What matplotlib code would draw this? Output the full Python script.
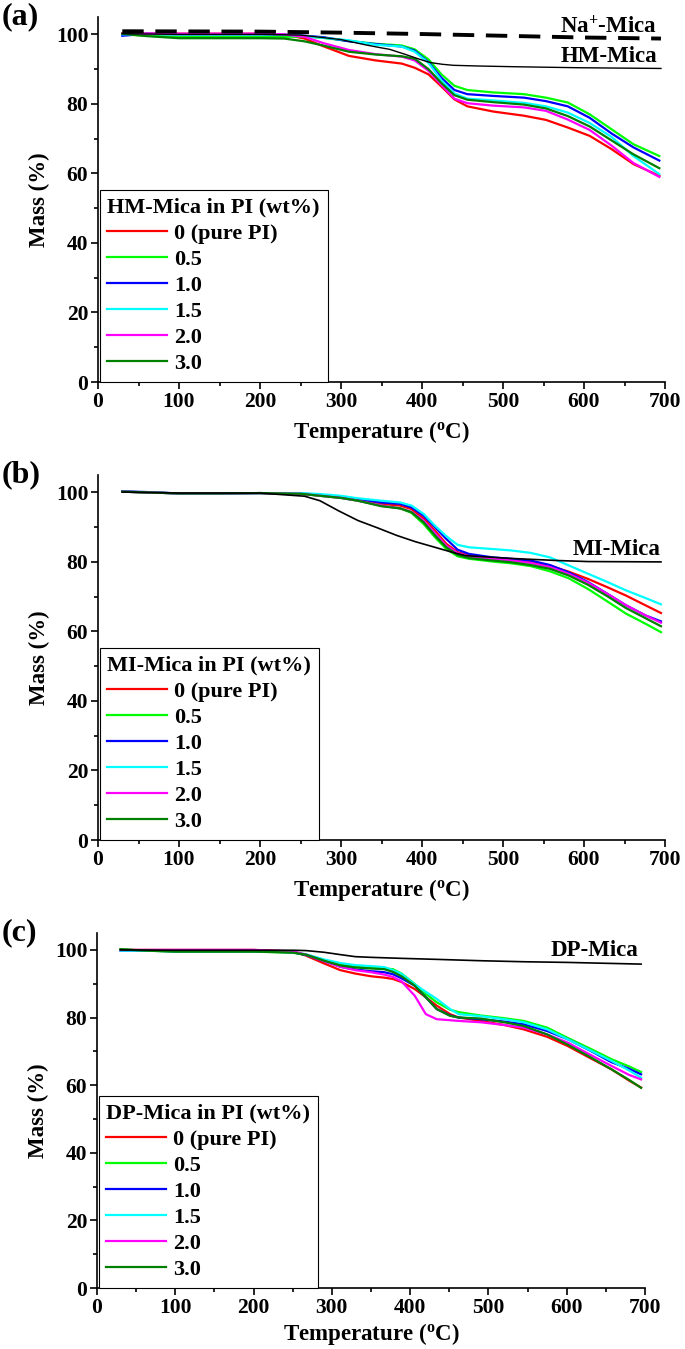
import numpy as np
import matplotlib as mpl
mpl.use('Agg')
from matplotlib import pyplot as plt
from matplotlib.ticker import MultipleLocator

plt.rcParams['font.family'] = 'Liberation Serif'
plt.rcParams['font.weight'] = 'bold'
plt.rcParams['mathtext.fontset'] = 'custom'
plt.rcParams['mathtext.rm'] = 'Liberation Serif:bold'
plt.rcParams['mathtext.it'] = 'Liberation Serif:bold'
plt.rcParams['mathtext.bf'] = 'Liberation Serif:bold'

loadings = ['0 (pure PI)', '0.5', '1.0', '1.5', '2.0', '3.0']
colors = '#ff0000', '#00ff00', '#0000ff', '#00ffff', '#ff00ff', '#008000'

# ---- (a) HM-Mica
T_a = [30, 60, 100, 150, 200, 230, 255, 278, 310, 343, 375, 391, 408, 424, 440, 456, 488, 526, 553, 580, 607, 634, 661, 693]
a_00 = [100.3, 100.2, 100.2, 100.2, 100.2, 100.0, 98.8, 96.6, 93.8, 92.5, 91.6, 90.4, 88.5, 85.0, 81.3, 79.3, 77.8, 76.6, 75.4, 73.2, 70.8, 67.0, 62.7, 59.3]
a_05 = [100.0, 99.6, 99.3, 99.3, 99.3, 99.3, 99.4, 99.0, 98.1, 97.3, 96.8, 95.7, 92.8, 88.5, 85.2, 84.0, 83.3, 82.8, 81.8, 80.4, 77.0, 72.7, 68.4, 65.0]
a_10 = [99.6, 100.2, 100.0, 100.0, 100.0, 99.9, 99.6, 99.2, 98.0, 97.2, 96.5, 95.3, 92.0, 87.5, 84.0, 82.8, 82.3, 81.8, 80.8, 79.3, 76.0, 71.5, 67.5, 63.7]
a_15 = [100.0, 100.1, 100.0, 100.0, 100.0, 99.9, 99.5, 99.0, 98.3, 97.0, 96.5, 95.0, 91.8, 86.8, 83.0, 81.5, 81.0, 80.3, 79.3, 77.5, 74.5, 70.5, 65.0, 59.8]
a_20 = [100.2, 100.2, 100.2, 100.2, 100.2, 100.0, 99.3, 97.5, 95.5, 94.3, 93.6, 92.5, 89.5, 85.5, 81.5, 80.2, 79.5, 79.0, 78.0, 75.5, 72.5, 68.0, 63.0, 59.0]
a_30 = [100.2, 99.5, 98.9, 98.9, 98.9, 98.8, 98.0, 96.8, 95.0, 94.2, 93.7, 93.0, 90.0, 86.0, 82.5, 81.2, 80.5, 79.8, 78.7, 76.5, 73.5, 69.5, 65.5, 61.5]
T_hm = [30, 100, 200, 250, 300, 330, 348, 360, 380, 395, 410, 425, 439, 470, 513, 595, 695]
hm_mica = [100.2, 100.0, 100.0, 99.8, 98.5, 97.0, 96.2, 95.7, 94.2, 93.0, 91.9, 91.4, 91.1, 90.9, 90.7, 90.4, 90.2]
T_na = [30, 200, 300, 400, 500, 600, 695]
na_mica = [100.9, 100.8, 100.5, 100.1, 99.6, 99.1, 98.8]

# ---- (b) MI-Mica
T_b = [30, 60, 100, 150, 200, 250, 275, 300, 321, 350, 373, 387, 402, 416, 430, 444, 458, 487, 510, 534, 558, 581, 605, 629, 652, 676, 695]
b_00 = [100.2, 100.0, 99.7, 99.7, 99.8, 99.6, 99.1, 98.6, 97.9, 96.7, 96.2, 95.2, 92.5, 89.0, 85.2, 82.8, 81.8, 81.0, 80.7, 80.1, 78.9, 77.2, 75.1, 72.7, 70.3, 67.5, 65.3]
b_05 = [100.2, 100.0, 99.7, 99.7, 99.8, 99.6, 99.0, 98.4, 97.6, 96.2, 95.4, 94.1, 90.9, 87.1, 83.7, 81.6, 80.9, 80.1, 79.6, 78.8, 77.3, 75.3, 72.2, 68.6, 65.1, 62.2, 59.8]
b_10 = [100.3, 100.1, 99.7, 99.7, 99.8, 99.7, 99.3, 98.8, 98.1, 97.1, 96.7, 95.7, 93.3, 90.0, 86.6, 83.5, 82.3, 81.3, 80.9, 80.4, 79.1, 77.0, 74.2, 70.8, 67.5, 64.6, 62.9]
b_15 = [100.2, 100.0, 99.7, 99.7, 99.8, 99.8, 99.5, 99.0, 98.3, 97.6, 97.1, 96.2, 93.8, 90.4, 87.4, 84.9, 84.2, 83.7, 83.3, 82.6, 81.3, 79.0, 76.6, 74.2, 71.8, 69.6, 67.8]
b_20 = [100.2, 100.0, 99.7, 99.7, 99.8, 99.6, 99.0, 98.4, 97.6, 96.2, 95.4, 94.4, 91.9, 88.3, 84.7, 82.5, 81.6, 80.9, 80.4, 79.7, 78.5, 76.6, 74.0, 70.8, 67.5, 64.6, 62.5]
b_30 = [100.2, 100.0, 99.7, 99.7, 99.8, 99.6, 99.0, 98.4, 97.6, 96.0, 95.4, 94.3, 91.4, 87.6, 84.2, 82.0, 81.1, 80.4, 79.9, 79.1, 78.0, 76.1, 73.4, 70.1, 66.7, 63.8, 61.5]
T_mi = [30, 100, 200, 255, 274, 297, 321, 345, 369, 392, 416, 440, 454, 510, 567, 605, 695]
mi_mica = [100.1, 99.8, 99.8, 98.9, 97.6, 94.7, 91.9, 89.8, 87.6, 85.8, 84.2, 82.6, 81.8, 81.0, 80.4, 80.1, 80.0]

# ---- (c) DP-Mica
T_c = [30, 60, 100, 150, 200, 250, 267, 290, 311, 330, 350, 367, 378, 389, 406, 420, 434, 451, 462, 490, 520, 545, 575, 601, 630, 657, 680, 695]
c_00 = [100.0, 100.0, 100.0, 100.0, 100.0, 99.5, 98.3, 96.0, 94.0, 93.0, 92.2, 91.8, 91.4, 90.5, 88.4, 86.0, 83.5, 81.0, 80.0, 79.0, 77.8, 76.5, 74.3, 71.6, 68.0, 64.7, 61.3, 59.3]
c_05 = [100.2, 99.8, 99.5, 99.5, 99.5, 99.2, 98.5, 97.0, 95.8, 95.0, 94.7, 94.5, 94.3, 93.0, 89.9, 87.0, 84.5, 82.3, 81.6, 80.6, 79.8, 79.0, 77.0, 74.0, 70.8, 67.7, 65.5, 63.9]
c_10 = [99.8, 99.8, 99.6, 99.6, 99.6, 99.3, 98.5, 96.7, 95.0, 94.2, 93.7, 93.4, 92.8, 91.6, 89.4, 86.0, 82.5, 80.6, 80.0, 79.5, 78.8, 78.0, 76.0, 73.6, 70.2, 66.8, 64.8, 63.2]
c_15 = [99.8, 99.8, 99.6, 99.6, 99.6, 99.3, 98.7, 97.2, 96.1, 95.5, 95.2, 94.9, 94.0, 92.9, 89.8, 87.6, 85.5, 82.5, 81.0, 80.4, 79.5, 78.6, 76.5, 73.6, 70.3, 67.2, 64.3, 62.2]
c_20 = [100.0, 100.0, 100.0, 100.0, 100.0, 99.6, 98.6, 96.7, 95.0, 94.0, 93.4, 92.7, 92.0, 90.7, 86.4, 81.0, 79.5, 79.2, 79.0, 78.6, 77.8, 77.0, 75.0, 72.6, 69.0, 65.7, 63.0, 61.7]
c_30 = [100.2, 99.8, 99.5, 99.5, 99.5, 99.2, 98.6, 96.8, 95.4, 94.8, 94.5, 94.3, 93.5, 92.2, 89.4, 86.0, 82.5, 80.5, 80.0, 79.7, 78.6, 77.5, 75.0, 72.0, 68.3, 64.7, 61.5, 59.2]
T_dp = [30, 100, 200, 250, 267, 290, 311, 330, 350, 389, 434, 490, 545, 601, 657, 695]
dp_mica = [100.0, 99.9, 99.9, 99.9, 99.8, 99.3, 98.6, 98.0, 97.8, 97.5, 97.2, 96.8, 96.5, 96.3, 96.0, 95.8]

fig = plt.figure(figsize=(6.85, 13.49), dpi=100)
W, H = 685.0, 1349.0
# axes boxes in pixels: left, right, top, bottom
boxes = [(98, 665, 17, 382), (98, 665, 475, 840), (97, 645, 933, 1288)]
axs = [fig.add_axes([l / W, 1 - b / H, (r - l) / W, (b - t) / H]) for l, r, t, b in boxes]

panels = [
    (T_a, [a_00, a_05, a_10, a_15, a_20, a_30], 'HM-Mica in PI (wt%)', '(a)', 5),
    (T_b, [b_00, b_05, b_10, b_15, b_20, b_30], 'MI-Mica in PI (wt%)', '(b)', 5),
    (T_c, [c_00, c_05, c_10, c_15, c_20, c_30], 'DP-Mica in PI (wt%)', '(c)', 2.5),
]

for ax, (T, series, title, tag, xpad), box in zip(axs, panels, boxes):
    for y, c, lab in zip(series, colors, loadings):
        ax.plot(T, y, color=c, lw=1.6, label=lab)
    ax.set_xlim(0, 700)
    ax.set_ylim(0, 105)
    ax.xaxis.set_major_locator(MultipleLocator(100))
    ax.xaxis.set_minor_locator(MultipleLocator(50))
    ax.yaxis.set_major_locator(MultipleLocator(20))
    ax.yaxis.set_minor_locator(MultipleLocator(10))
    for s in ['top', 'right']:
        ax.spines[s].set_visible(False)
    for s in ['left', 'bottom']:
        ax.spines[s].set_linewidth(1.2)
    ax.tick_params(which='major', direction='out', length=5, width=1.2, labelsize=15.5, pad=2)
    ax.tick_params(which='minor', direction='out', length=3, width=1.2)
    ax.set_xlabel('Temperature ($^{\\rm o}$C)', fontsize=16.5, fontweight='bold', labelpad=xpad)
    ax.set_ylabel('Mass (%)', fontsize=16.5, fontweight='bold')
    ax.yaxis.set_label_coords(-48.0 / (box[1] - box[0]), 0.5)
    leg = ax.legend(loc='lower left', bbox_to_anchor=(0.003, 0), borderaxespad=0, fancybox=False,
                    edgecolor='black', framealpha=1, title=title,
                    title_fontproperties={'weight': 'bold', 'size': 16}, alignment='left',
                    prop={'weight': 'bold', 'size': 16}, handlelength=2.7, handletextpad=0.3,
                    labelspacing=0.25, borderpad=0.35)
    leg.get_frame().set_linewidth(0.8)
    fig.text(2 / W, 1 - box[2] / H, tag, fontsize=23, fontweight='bold', ha='left', va='center')

axs[0].plot(T_na, na_mica, color='black', lw=2.8, ls=(0, (5.5, 3.0)))
axs[0].plot(T_hm, hm_mica, color='black', lw=1.0)
axs[0].text(690, 102.3, 'Na$^{+}$-Mica', fontsize=16.5, fontweight='bold', ha='right', va='center')
axs[0].text(690, 93.6, 'HM-Mica', fontsize=16.5, fontweight='bold', ha='right', va='center')

axs[1].plot(T_mi, mi_mica, color='black', lw=1.2)
axs[1].text(695, 83.7, 'MI-Mica', fontsize=16.5, fontweight='bold', ha='right', va='center')

axs[2].plot(T_dp, dp_mica, color='black', lw=1.2)
axs[2].text(692, 99.8, 'DP-Mica', fontsize=16.5, fontweight='bold', ha='right', va='center')

fig.savefig('out.png', dpi=100)
